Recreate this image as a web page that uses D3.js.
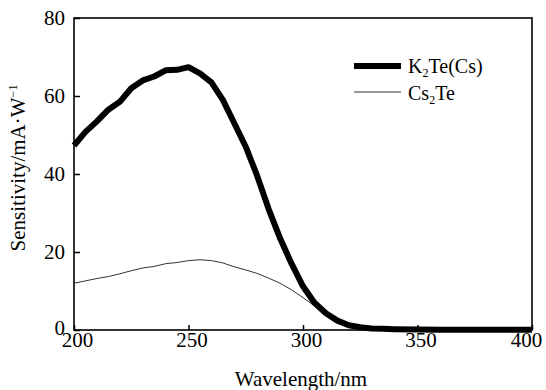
<!DOCTYPE html>
<html lang="en">
<head>
<meta charset="UTF-8">
<title>sensitivity</title>
<script src="https://cdn.jsdelivr.net/npm/d3@7"></script>
<style>
  body { margin: 0; background: #fff; }
  svg text { font-family: "Liberation Serif", "Times New Roman", serif !important; fill: #000; }
</style>
</head>
<body>
<script>
// wavelength (nm)
var wavelengths = [200, 205, 210, 215, 220, 225, 230, 235, 240, 245, 250, 255, 260, 265, 270, 275, 280, 285, 290, 295,
                   300, 305, 310, 315, 320, 325, 330, 335, 340, 350, 360, 370, 380, 390, 400];
// K2Te(Cs) sensitivity, mA/W
var k2teCs = [47.3, 50.8, 53.5, 56.5, 58.5, 62, 64, 65, 66.6, 66.7, 67.4, 65.8, 63.5, 59, 53, 47, 39.5, 31, 23.5, 17,
              11.2, 7, 4.3, 2.4, 1.2, 0.7, 0.4, 0.3, 0.2, 0.1, 0.05, 0.05, 0.05, 0.05, 0.05];
// Cs2Te sensitivity, mA/W
var cs2te = [12, 12.6, 13.2, 13.7, 14.4, 15.2, 15.9, 16.3, 17.0, 17.3, 17.8, 18.0, 17.8, 17.2, 16.2, 15.4, 14.5, 13.3, 12.0, 10.3,
             8.3, 6.2, 4.4, 2.8, 1.6, 0.9, 0.5, 0.3, 0.2, 0.1, 0.05, 0.05, 0.05, 0.05, 0.05];
var xTicks = [200, 250, 300, 350, 400];
var yTicks = [0, 20, 40, 60, 80];

var width = 546, height = 390;
var plotL = 74, plotR = 532, plotT = 18, plotB = 330;
var serif = "'Liberation Serif', 'Times New Roman', serif";

var svg = d3.select("body").append("svg")
    .attr("width", width)
    .attr("height", height);

var x = d3.scaleLinear().domain([200, 400]).range([plotL, plotR]);
var y = d3.scaleLinear().domain([0, 80]).range([plotB, plotT]);

// axes with inward ticks
var xAxis = svg.append("g")
    .attr("transform", "translate(0," + plotB + ")")
    .attr("font-family", serif)
    .call(d3.axisBottom(x).tickValues(xTicks).tickSize(-5).tickPadding(2));
xAxis.selectAll("text")
    .attr("dy", "0.71em")
    .attr("dx", function (d) { return d === 400 ? -6 : 3; })
    .style("font-family", serif)
    .style("font-size", "21px");

var yAxis = svg.append("g")
    .attr("transform", "translate(" + plotL + ",0)")
    .attr("font-family", serif)
    .call(d3.axisLeft(y).tickValues(yTicks).tickSize(-6).tickPadding(9));
yAxis.selectAll("text")
    .attr("dy", function (d) { return d === 0 ? "0.22em" : "0.32em"; })
    .style("font-family", serif)
    .style("font-size", "21px");

svg.selectAll(".domain").remove();
svg.selectAll(".tick line").attr("stroke", "#000").attr("stroke-width", 1.5);

// frame
svg.append("rect")
    .attr("x", plotL).attr("y", plotT)
    .attr("width", plotR - plotL).attr("height", plotB - plotT)
    .attr("fill", "none").attr("stroke", "#000").attr("stroke-width", 1.6);

var rows = wavelengths.map(function (w, i) { return { w: w, a: k2teCs[i], b: cs2te[i] }; });

var lineA = d3.line().x(function (d) { return x(d.w); }).y(function (d) { return y(d.a); });
var lineB = d3.line().x(function (d) { return x(d.w); }).y(function (d) { return y(d.b); });

svg.append("path").datum(rows)
    .attr("d", lineB)
    .attr("fill", "none").attr("stroke", "#333").attr("stroke-width", 1);

svg.append("path").datum(rows)
    .attr("d", lineA)
    .attr("fill", "none").attr("stroke", "#000").attr("stroke-width", 6)
    .attr("stroke-linejoin", "round");

// legend
var lg = svg.append("g");
lg.append("line").attr("x1", 354).attr("x2", 401).attr("y1", 66).attr("y2", 66)
    .attr("stroke", "#000").attr("stroke-width", 6);
lg.append("line").attr("x1", 354).attr("x2", 401).attr("y1", 92).attr("y2", 92)
    .attr("stroke", "#333").attr("stroke-width", 1);

var t1 = lg.append("text").attr("x", 408).attr("y", 73).style("font-size", "20px");
t1.append("tspan").text("K");
t1.append("tspan").attr("dy", 4).style("font-size", "12px").text("2");
t1.append("tspan").attr("dy", -4).text("Te(Cs)");

var t2 = lg.append("text").attr("x", 408).attr("y", 100).style("font-size", "20px");
t2.append("tspan").text("Cs");
t2.append("tspan").attr("dy", 4).style("font-size", "12px").text("2");
t2.append("tspan").attr("dy", -4).text("Te");

// axis titles
svg.append("text")
    .attr("x", (plotL + plotR) / 2 - 2).attr("y", 386)
    .attr("text-anchor", "middle")
    .style("font-size", "21px")
    .text("Wavelength/nm");

var yl = svg.append("text")
    .attr("transform", "translate(25,168) rotate(-90)")
    .attr("text-anchor", "middle")
    .style("font-size", "21px");
yl.append("tspan").text("Sensitivity/mA\u00b7W");
yl.append("tspan").attr("dy", -8).style("font-size", "12px").text("\u22121");
</script>
</body>
</html>
